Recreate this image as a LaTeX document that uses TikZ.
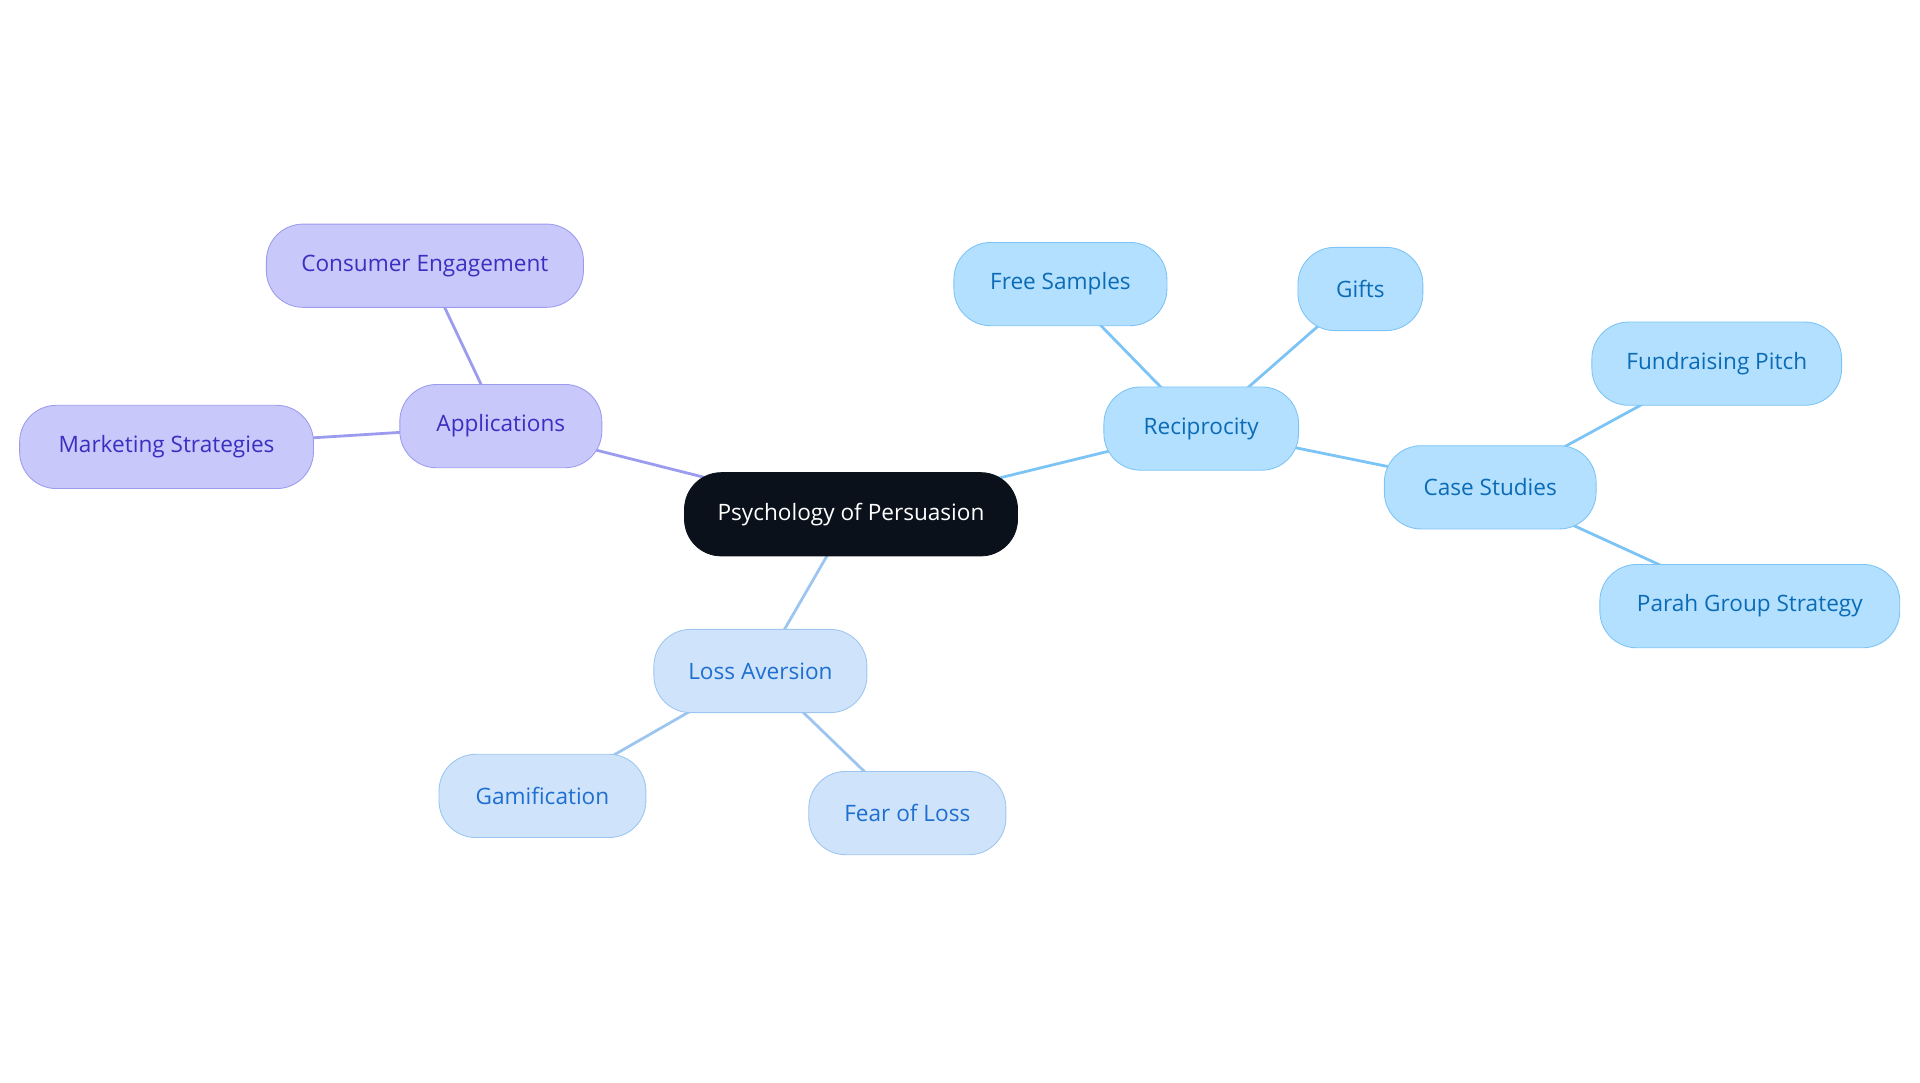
\documentclass[tikz,border=0pt]{standalone}
\usepackage{fontspec}
\setmainfont{Open Sans}
\definecolor{rootfill}{HTML}{0B111B}
\definecolor{appfill}{HTML}{C8C8FA}
\definecolor{appline}{HTML}{9B9BEF}
\definecolor{apptext}{HTML}{3A2FC0}
\definecolor{recfill}{HTML}{B3E0FF}
\definecolor{recline}{HTML}{7CC4F5}
\definecolor{rectext}{HTML}{0B6BB5}
\definecolor{lossfill}{HTML}{CFE3FB}
\definecolor{lossline}{HTML}{9CC6F0}
\definecolor{losstext}{HTML}{1E6FD0}
\tikzset{
  box/.style={rounded corners=0.6cm, minimum height=1.36cm, font=\fontsize{10.5}{12}\selectfont, inner sep=0pt},
  rootbox/.style={box, fill=rootfill, draw=rootfill, text=white},
  appbox/.style={box, fill=appfill, draw=appline, text=apptext},
  recbox/.style={box, fill=recfill, draw=recline, text=rectext},
  lossbox/.style={box, fill=lossfill, draw=lossline, text=losstext},
  link/.style={line width=1.3pt}
}
\begin{document}
\begin{tikzpicture}[x=0.02cm,y=-0.02cm]
\useasboundingbox (0,0) rectangle (1568,884);
% edges first, nodes drawn on top
\coordinate (c) at (0,0);
\begin{scope}[on background layer/.style={}]
\end{scope}
\path
 (695,420) coordinate (rootc)
 (409,348) coordinate (appc) (347,217) coordinate (consc) (136,365) coordinate (markc)
 (981,350) coordinate (recc) (866,232) coordinate (freec) (1111,236) coordinate (giftc)
 (1217,398) coordinate (casec) (1402,297) coordinate (fundc) (1429,495) coordinate (parahc)
 (621,548) coordinate (lossc) (443,650) coordinate (gamc) (741,664) coordinate (fearc);
\draw[link, appline] (rootc) -- (appc) (appc) -- (consc) (appc) -- (markc);
\draw[link, recline] (rootc) -- (recc) (recc) -- (freec) (recc) -- (giftc) (recc) -- (casec) (casec) -- (fundc) (casec) -- (parahc);
\draw[link, lossline] (rootc) -- (lossc) (lossc) -- (gamc) (lossc) -- (fearc);
\node[rootbox, minimum width=5.44cm] (root) at (rootc) {Psychology of Persuasion};
\node[appbox, minimum width=3.3cm] (app) at (appc) {Applications};
\node[appbox, minimum width=5.18cm] (cons) at (consc) {Consumer Engagement};
\node[appbox, minimum width=4.8cm] (mark) at (markc) {Marketing Strategies};
\node[recbox, minimum width=3.18cm] (rec) at (recc) {Reciprocity};
\node[recbox, minimum width=3.48cm] (free) at (freec) {Free Samples};
\node[recbox, minimum width=2.04cm] (gift) at (giftc) {Gifts};
\node[recbox, minimum width=3.46cm] (case) at (casec) {Case Studies};
\node[recbox, minimum width=4.08cm] (fund) at (fundc) {Fundraising Pitch};
\node[recbox, minimum width=4.9cm] (parah) at (parahc) {Parah Group Strategy};
\node[lossbox, minimum width=3.48cm] (loss) at (lossc) {Loss Aversion};
\node[lossbox, minimum width=3.38cm] (gam) at (gamc) {Gamification};
\node[lossbox, minimum width=3.22cm] (fear) at (fearc) {Fear of Loss};
\end{tikzpicture}
\end{document}
